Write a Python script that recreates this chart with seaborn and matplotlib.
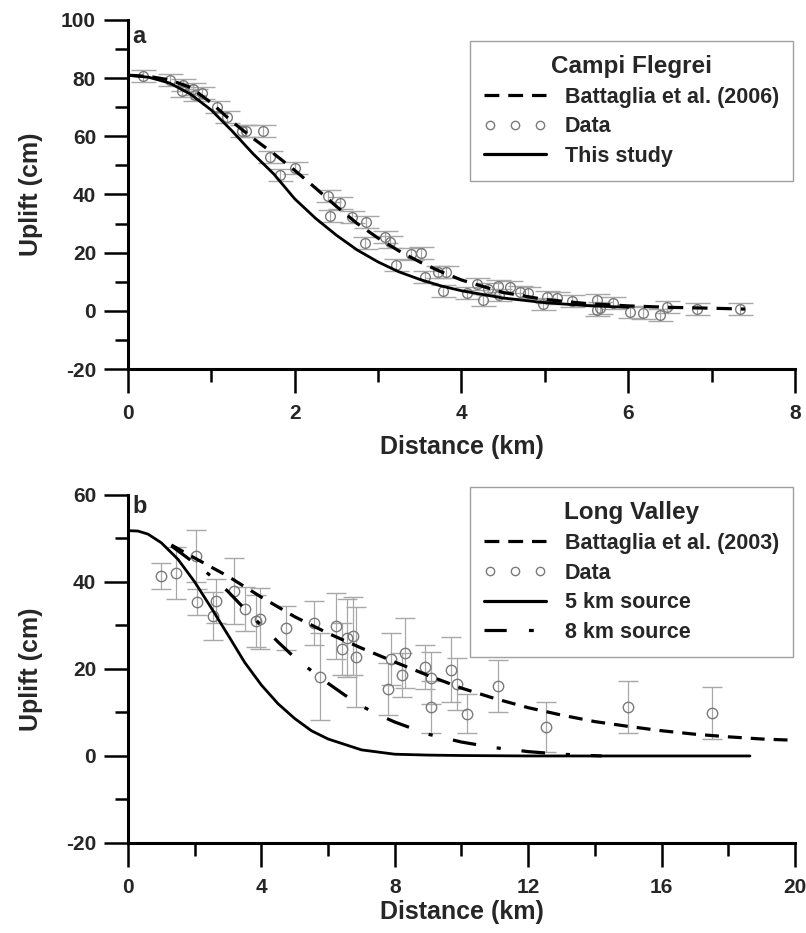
import matplotlib
matplotlib.use("Agg")
import matplotlib.pyplot as plt
from matplotlib.lines import Line2D
from matplotlib.legend_handler import HandlerLine2D
from matplotlib.ticker import MultipleLocator
import seaborn as sns

# ---- data: panel a (Campi Flegrei) ----
cf_model_x = [0, 0.25, 0.5, 0.75, 1.0, 1.25, 1.5, 1.75, 2.0, 2.25, 2.5, 2.75, 3.0,
              3.25, 3.5, 3.75, 4.0, 4.5, 5.0, 5.5, 6.0]
cf_this_study = [81, 80.3, 78.3, 74.5, 69, 61.8, 54, 47, 38.5, 31.8, 26, 20.9, 16.8,
                 13.4, 10.8, 8.6, 6.9, 4.4, 2.8, 1.8, 1.2]
cf_batt_x = [0, 0.25, 0.5, 0.75, 1.0, 1.25, 1.5, 1.75, 2.0, 2.25, 2.5, 2.75, 3.0, 3.25,
             3.5, 3.75, 4.0, 4.5, 5.0, 5.5, 6.0, 6.5, 7.0, 7.4]
cf_batt = [81, 80.6, 79.4, 76.8, 71.5, 65, 59.3, 54, 48.3, 42.2, 35.9, 30, 25, 20.6,
           16.8, 13.5, 10.6, 6.3, 3.9, 2.5, 1.7, 1.2, 0.9, 0.6]
cf_data_x = [0.18, 0.50, 0.65, 0.66, 0.78, 0.80, 0.89, 1.07, 1.19, 1.37, 1.42, 1.62, 1.70,
             1.82, 2.00, 2.40, 2.42, 2.54, 2.69, 2.84, 2.85, 3.08, 3.14, 3.22, 3.40, 3.52,
             3.56, 3.72, 3.78, 3.82, 4.07, 4.19, 4.26, 4.32, 4.44, 4.45, 4.58, 4.70, 4.80,
             4.98, 5.02, 5.14, 5.32, 5.62, 5.62, 5.66, 5.82, 6.02, 6.18, 6.38, 6.46, 6.82, 7.34]
cf_data_y = [80.7, 79.4, 75.6, 77.7, 76.3, 74.2, 74.9, 70.1, 66.7, 61.8, 61.8, 61.8, 52.9,
             46.7, 49.1, 39.5, 32.6, 37.1, 32.3, 23.3, 30.5, 25.4, 23.7, 15.8, 19.5, 19.9,
             11.6, 13.4, 6.8, 13.4, 6.1, 9.2, 3.7, 7.5, 8.5, 5.4, 8.2, 6.5, 6.1,
             2.3, 4.8, 4.4, 3.4, 3.7, 0.3, 1.0, 2.7, -0.4, -0.7, -1.4, 1.3, 0.6, 0.6]
cf_data_err = 2.0

# ---- data: panel b (Long Valley) ----
lv_5km_x = [0, 0.3, 0.6, 1.0, 1.5, 2.0, 2.5, 3.0, 3.5, 4.0, 4.5, 5.0, 5.5, 6.0, 7.0, 8.0,
            9.0, 10.0, 12.0, 14.0, 16.0, 18.65]
lv_5km = [51.8, 51.7, 51.0, 49.0, 45.2, 40.0, 34.0, 27.8, 21.5, 16.3, 12.0, 8.6, 5.8, 3.9,
          1.4, 0.4, 0.2, 0.1, 0.0, 0.0, 0.0, 0.0]
lv_8km_x = [1.3, 2.0, 2.5, 3.0, 3.5, 4.0, 4.5, 5.0, 5.5, 6.0, 6.5, 7.0, 7.5, 8.0, 9.0,
            10.0, 11.0, 12.0, 13.0, 14.2]
lv_8km = [48.3, 44.3, 41.3, 37.8, 33.8, 30.0, 26.2, 22.6, 19.6, 16.7, 14.0, 11.5, 9.5, 7.8,
          5.0, 3.2, 1.9, 1.0, 0.4, 0.0]
lv_batt_x = [1.3, 2, 3, 4, 5, 6, 7, 8, 9, 10, 11, 12, 13, 14, 15, 16, 17, 18, 19, 20]
lv_batt = [48.5, 45.5, 41.3, 36.5, 32, 28.2, 24.8, 21.6, 18.5, 15.6, 13.2, 11.1, 9.4, 7.9,
           6.8, 5.8, 5.0, 4.4, 3.9, 3.6]
lv_data_x = [1.00, 1.45, 2.05, 2.07, 2.55, 2.64, 3.18, 3.51, 3.84, 3.96, 4.74, 5.58, 5.76,
             6.24, 6.42, 6.56, 6.75, 6.84, 7.80, 7.88, 8.21, 8.30, 8.90, 9.09, 9.09, 9.69,
             9.87, 10.17, 11.10, 12.53, 15.00, 17.50]
lv_data_y = [41.4, 42.1, 46.0, 35.4, 32.2, 35.6, 37.9, 33.8, 31.0, 31.5, 29.4, 30.6, 18.2,
             29.9, 24.6, 27.1, 27.6, 22.8, 15.4, 22.3, 18.6, 23.7, 20.5, 17.9, 11.3, 19.8,
             16.6, 9.7, 16.1, 6.7, 11.3, 9.9]
lv_data_err = [3, 6, 6, 3, 5.5, 5, 7.5, 5, 6, 7, 5, 5, 10, 7.5, 6, 9, 9, 11.5, 6, 6, 5, 8,
               5, 6, 6, 7.5, 6, 4.5, 6, 5.8, 6, 6]

sns.set_theme(style="ticks")
plt.rcParams["font.family"] = ["Liberation Sans", "DejaVu Sans"]
plt.rcParams["font.weight"] = "bold"
plt.rcParams["axes.labelweight"] = "bold"
plt.rcParams["axes.unicode_minus"] = False
plt.rcParams["lines.scale_dashes"] = False

DASH_A = (0, (11, 6.5))
DASH_B = (0, (10, 6.5))
DASH_LEG = (0, (10.7, 6.4))
DASHDOT_B = (0, (17, 15, 3, 15))
DASHDOT_LEG = (0, (16, 16, 3.5, 20))
GRAY_MK = "#7a7a7a"
GRAY_ERR = "#a8a8a8"


def style_axis(ax, xlim, ylim, xmaj, xmin, ymaj, ymin):
    ax.set_xlim(*xlim)
    ax.set_ylim(*ylim)
    sns.despine(ax=ax)
    for s in ("left", "bottom"):
        ax.spines[s].set_linewidth(2.2)
        ax.spines[s].set_color("black")
    ax.xaxis.set_major_locator(MultipleLocator(xmaj))
    ax.xaxis.set_minor_locator(MultipleLocator(xmin))
    ax.yaxis.set_major_locator(MultipleLocator(ymaj))
    ax.yaxis.set_minor_locator(MultipleLocator(ymin))
    ax.tick_params(which="major", direction="out", length=17, width=1.8,
                   color="black", labelsize=15)
    ax.tick_params(which="minor", direction="out", length=9.5, width=1.8, color="black")
    ax.tick_params(axis="x", which="major", pad=8)
    ax.tick_params(axis="y", which="major", pad=6)
    for lab in ax.get_xticklabels() + ax.get_yticklabels():
        lab.set_fontweight("bold")
    ax.set_ylabel("Uplift (cm)", fontsize=18, fontweight="bold")
    ax.set_xlabel("Distance (km)", fontsize=18, fontweight="bold")
    ax.yaxis.set_label_coords(-0.127, 0.5)


def make_legend(ax, handles, labels, title, anchor, data_handle):
    leg = ax.legend(handles, labels, title=title, loc="upper right",
                    bbox_to_anchor=anchor, borderaxespad=0, numpoints=1,
                    handler_map={data_handle: HandlerLine2D(numpoints=3)},
                    handlelength=2.9, handletextpad=0.85, labelspacing=0.4,
                    borderpad=0.65, fancybox=False, framealpha=1,
                    edgecolor="#a0a0a0",
                    prop={"size": 15.5, "weight": "bold"},
                    title_fontproperties={"size": 17.5, "weight": "bold"})
    leg.get_frame().set_linewidth(1.0)
    return leg


fig = plt.figure(figsize=(8.06, 9.33), dpi=100)
ax_a = fig.add_axes([0.1588, 0.6045, 0.8275, 0.3741])
ax_b = fig.add_axes([0.1588, 0.0965, 0.8275, 0.3730])

# ---- panel a ----
ax_a.errorbar(cf_data_x, cf_data_y, yerr=cf_data_err, fmt="o", ms=7, mfc="none",
              mec=GRAY_MK, mew=1.0, ecolor=GRAY_ERR, elinewidth=0.9, capsize=9,
              capthick=0.9, zorder=2)
sns.lineplot(x=cf_batt_x, y=cf_batt, ax=ax_a, color="black", lw=2.3,
             linestyle=DASH_A, zorder=3)
sns.lineplot(x=cf_model_x, y=cf_this_study, ax=ax_a, color="black", lw=2.0, zorder=3)
style_axis(ax_a, (0, 8), (-20, 100), 2, 1, 20, 10)
ax_a.xaxis.set_label_coords(0.5, -0.19)
ax_a.text(0.006, 0.985, "a", transform=ax_a.transAxes, ha="left", va="top",
          fontsize=17, fontweight="bold")

data_a = Line2D([], [], ls="none", marker="o", ms=6, mfc="none", mec=GRAY_MK, mew=1.0)
h_a = [Line2D([], [], color="black", lw=2.3, linestyle=DASH_LEG),
       data_a,
       Line2D([], [], color="black", lw=2.3)]
make_legend(ax_a, h_a, ["Battaglia et al. (2006)", "Data", "This study"],
            "Campi Flegrei", (0.997, 0.940), data_a)

# ---- panel b ----
ax_b.errorbar(lv_data_x, lv_data_y, yerr=lv_data_err, fmt="o", ms=7.5, mfc="none",
              mec=GRAY_MK, mew=1.0, ecolor=GRAY_ERR, elinewidth=0.9, capsize=7,
              capthick=0.9, zorder=2)
sns.lineplot(x=lv_batt_x, y=lv_batt, ax=ax_b, color="black", lw=2.3,
             linestyle=DASH_B, zorder=3)
sns.lineplot(x=lv_8km_x, y=lv_8km, ax=ax_b, color="black", lw=2.3,
             linestyle=DASHDOT_B, zorder=3)
sns.lineplot(x=lv_5km_x, y=lv_5km, ax=ax_b, color="black", lw=2.0, zorder=3)
style_axis(ax_b, (0, 20), (-20, 60), 4, 2, 20, 10)
ax_b.xaxis.set_label_coords(0.5, -0.165)
ax_b.text(0.006, 1.0, "b", transform=ax_b.transAxes, ha="left", va="top",
          fontsize=17, fontweight="bold")

data_b = Line2D([], [], ls="none", marker="o", ms=6, mfc="none", mec=GRAY_MK, mew=1.0)
h_b = [Line2D([], [], color="black", lw=2.3, linestyle=DASH_LEG),
       data_b,
       Line2D([], [], color="black", lw=2.3),
       Line2D([], [], color="black", lw=2.3, linestyle=DASHDOT_LEG)]
make_legend(ax_b, h_b, ["Battaglia et al. (2003)", "Data", "5 km source", "8 km source"],
            "Long Valley", (0.997, 1.022), data_b)

fig.savefig("out.png", dpi=100)
